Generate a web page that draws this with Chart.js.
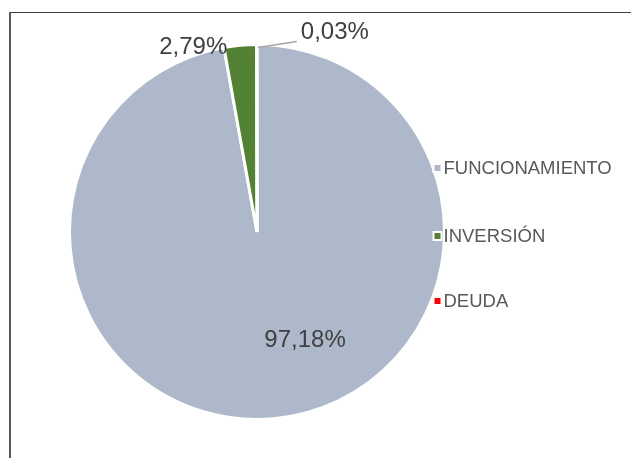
<!DOCTYPE html>
<html>
<head>
<meta charset="utf-8">
<script src="https://cdn.jsdelivr.net/npm/chart.js@4"></script>
<style>
  html, body { margin: 0; padding: 0; background: #fff; }
  #wrap { position: relative; width: 631px; height: 458px; }
  #frame { position: absolute; left: 9px; top: 12px; right: -2px; bottom: -2px;
           border-left: 2px solid #595959; border-top: 1px solid #404040; }
  canvas { position: absolute; left: 0; top: 0; }
</style>
</head>
<body>
<div id="wrap">
  <div id="frame"></div>
  <canvas id="myChart" width="631" height="458"></canvas>
</div>
<script>
const categories = ["FUNCIONAMIENTO", "INVERSIÓN", "DEUDA"];
const shares = [97.18, 2.79, 0.03];
const colors = ["#ADB9CA", "#548235", "#FF0000"];
const pctLabels = ["97,18%", "2,79%", "0,03%"];

// label + legend drawing
const labelPlugin = {
  id: "labels",
  afterDraw(chart) {
    const ctx = chart.ctx;
    const arcs = chart.getDatasetMeta(0).data;
    const big = arcs[0];
    const cx = big.x, cy = big.y, r = big.outerRadius;

    ctx.save();
    ctx.fillStyle = "#404040";
    ctx.font = "24px 'Liberation Sans', Arial, sans-serif";
    ctx.textAlign = "center";
    ctx.textBaseline = "middle";

    // big slice, inside
    let a = 66 * Math.PI / 180;
    ctx.fillText(pctLabels[0], cx + Math.cos(a) * r * 0.63, cy + Math.sin(a) * r * 0.63);

    // green slice, just outside to the left
    const g = arcs[1];
    const gm = (g.startAngle + g.endAngle) / 2;
    ctx.textAlign = "right";
    ctx.fillText(pctLabels[1], cx + Math.cos(gm) * r - 13, cy + Math.sin(gm) * r + 2);

    // tiny slice with leader line
    const d = arcs[2];
    const dm = (d.startAngle + d.endAngle) / 2;
    const x0 = cx + Math.cos(dm) * r, y0 = cy + Math.sin(dm) * r + 3;
    ctx.strokeStyle = "#A6A6A6";
    ctx.lineWidth = 1.5;
    ctx.beginPath();
    ctx.moveTo(x0 + 1, y0);
    ctx.lineTo(x0 + 40, y0 - 6);
    ctx.stroke();
    ctx.textAlign = "left";
    ctx.fillText(pctLabels[2], x0 + 44, y0 - 15);

    // legend
    const lx = cx + r - 11;
    const ly = [168, 236, 301];
    ctx.font = "18.5px 'Liberation Sans', Arial, sans-serif";
    categories.forEach((name, i) => {
      ctx.fillStyle = "#FFFFFF";
      ctx.fillRect(lx - 1, ly[i] - 5, 10, 10);
      ctx.fillStyle = colors[i];
      ctx.fillRect(lx + 1, ly[i] - 3, 6, 6);
      ctx.fillStyle = "#595959";
      ctx.textAlign = "left";
      ctx.fillText(name, lx + 10, ly[i] + 1);
    });
    ctx.restore();
  }
};

const ctx = document.getElementById("myChart").getContext("2d");
new Chart(ctx, {
  type: "pie",
  data: {
    labels: categories,
    datasets: [{
      data: shares,
      backgroundColor: colors,
      borderColor: "#FFFFFF",
      borderWidth: 3
    }]
  },
  options: {
    responsive: false,
    animation: false,
    layout: { padding: { left: 68, right: 185, top: 43, bottom: 37 } },
    plugins: {
      legend: { display: false },
      tooltip: { enabled: false }
    }
  },
  plugins: [labelPlugin]
});
</script>
</body>
</html>
